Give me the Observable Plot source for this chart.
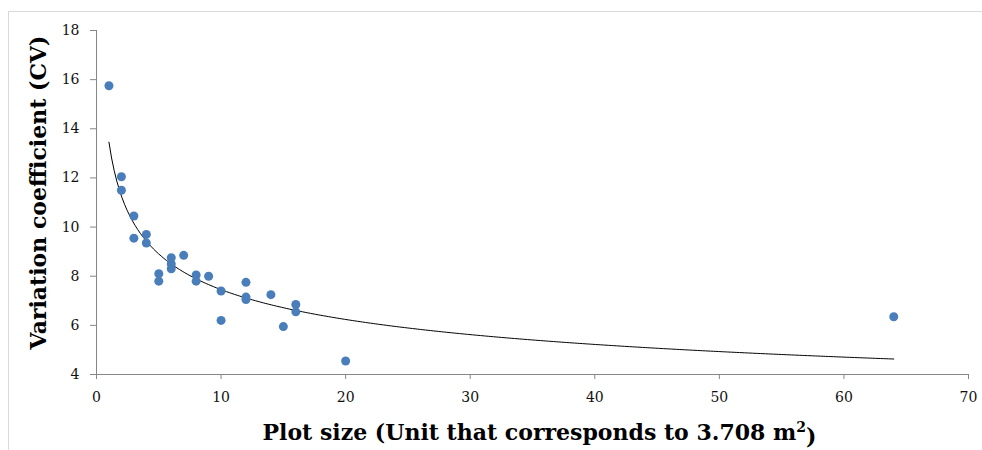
<!DOCTYPE html>
<html>
<head>
<meta charset="utf-8">
<script src="https://cdn.jsdelivr.net/npm/d3@7"></script>
<script src="https://cdn.jsdelivr.net/npm/@observablehq/plot@0.6"></script>
<style>
  html, body { margin: 0; padding: 0; background: #fff; }
  #wrap { position: relative; width: 982px; height: 450px; overflow: hidden; }
  #border { position: absolute; left: 8px; top: 11px; right: -2px; bottom: -2px;
            border-left: 1px solid #d9d9d9; border-top: 1px solid #d9d9d9; pointer-events: none; }
  #wrap svg { position: absolute; left: 0; top: 0; }
</style>
</head>
<body>
<div id="wrap"><div id="border"></div></div>
<script>
// Plot size (units of 3.708 m²)
const plotSize = [1, 2, 2, 3, 3, 4, 4, 5, 5, 6, 6, 6, 7, 8, 8, 9, 10, 10, 12, 12, 12, 14, 15, 16, 16, 20, 64];
// Variation coefficient (CV)
const cv = [15.75, 12.05, 11.5, 10.45, 9.55, 9.7, 9.35, 8.1, 7.8, 8.75, 8.5, 8.3, 8.85, 8.05, 7.8, 8.0, 7.4, 6.2, 7.75, 7.15, 7.05, 7.25, 5.95, 6.85, 6.55, 4.55, 6.35];

const xTicks = [0, 10, 20, 30, 40, 50, 60, 70];
const yTicks = [4, 6, 8, 10, 12, 14, 16, 18];

const xTitle = "Plot size (Unit that corresponds to 3.708 m²)";
const yTitle = "Variation coefficient (CV)";

const data = plotSize.map((x, i) => ({x, y: cv[i]}));

// Power trendline (least squares in log-log space), as in the original chart
const lx = data.map(d => Math.log(d.x)), ly = data.map(d => Math.log(d.y));
const mx = d3.mean(lx), my = d3.mean(ly);
const b = d3.sum(lx.map((v, i) => (v - mx) * (ly[i] - my))) / d3.sum(lx.map(v => (v - mx) ** 2));
const a = Math.exp(my - b * mx);
const [x0, x1] = d3.extent(plotSize);
const fit = d3.range(301).map(i => {
  const x = x0 + (x1 - x0) * i / 300;
  return {x, y: a * Math.pow(x, b)};
});

const axisGray = "#868686";
const titleFont = "DejaVu Serif";
const chart = Plot.plot({
  width: 982,
  height: 450,
  marginLeft: 96,
  marginRight: 14,
  marginTop: 30,
  marginBottom: 76,
  style: {fontFamily: "DejaVu Serif", fontSize: "14px", color: "#111", background: "transparent"},
  x: {domain: [0, 70]},
  y: {domain: [4, 18]},
  marks: [
    Plot.ruleX([0], {stroke: axisGray, strokeWidth: 1}),
    Plot.ruleY([4], {stroke: axisGray, strokeWidth: 1}),
    Plot.axisX({ticks: xTicks, tickSize: 5, tickPadding: 13, stroke: axisGray, label: null, tickFormat: d3.format("d")}),
    Plot.axisY({ticks: yTicks, tickSize: 6, tickPadding: 11, stroke: axisGray, label: null, tickFormat: d3.format("d")}),
    Plot.line(fit, {x: "x", y: "y", stroke: "#000", strokeWidth: 1}),
    Plot.dot(data, {x: "x", y: "y", fill: "#4a7ebb", r: 4.5}),
    Plot.text([xTitle], {frameAnchor: "bottom", textAnchor: "middle", lineAnchor: "middle", dy: 58, dx: 7, text: d => d, fontSize: 22, fontWeight: "bold", fill: "#000", fontFamily: titleFont}),
    Plot.text([yTitle], {frameAnchor: "left", textAnchor: "middle", lineAnchor: "middle", dx: -58, dy: -10, rotate: -90, text: d => d, fontSize: 22, fontWeight: "bold", fill: "#000", fontFamily: titleFont})
  ]
});
document.getElementById("wrap").appendChild(chart);

// Render the superscript 2 of m² as a raised smaller digit
d3.select(chart).selectAll("text").filter(function() { return this.textContent === xTitle; }).each(function() {
  const t = d3.select(this);
  t.text(null);
  t.append("tspan").text("Plot size (Unit that corresponds to 3.708 m");
  t.append("tspan").attr("dy", "-0.55em").attr("font-size", "14px").text("2");
  t.append("tspan").attr("dy", "0.55em").text(")");
});
</script>
</body>
</html>
